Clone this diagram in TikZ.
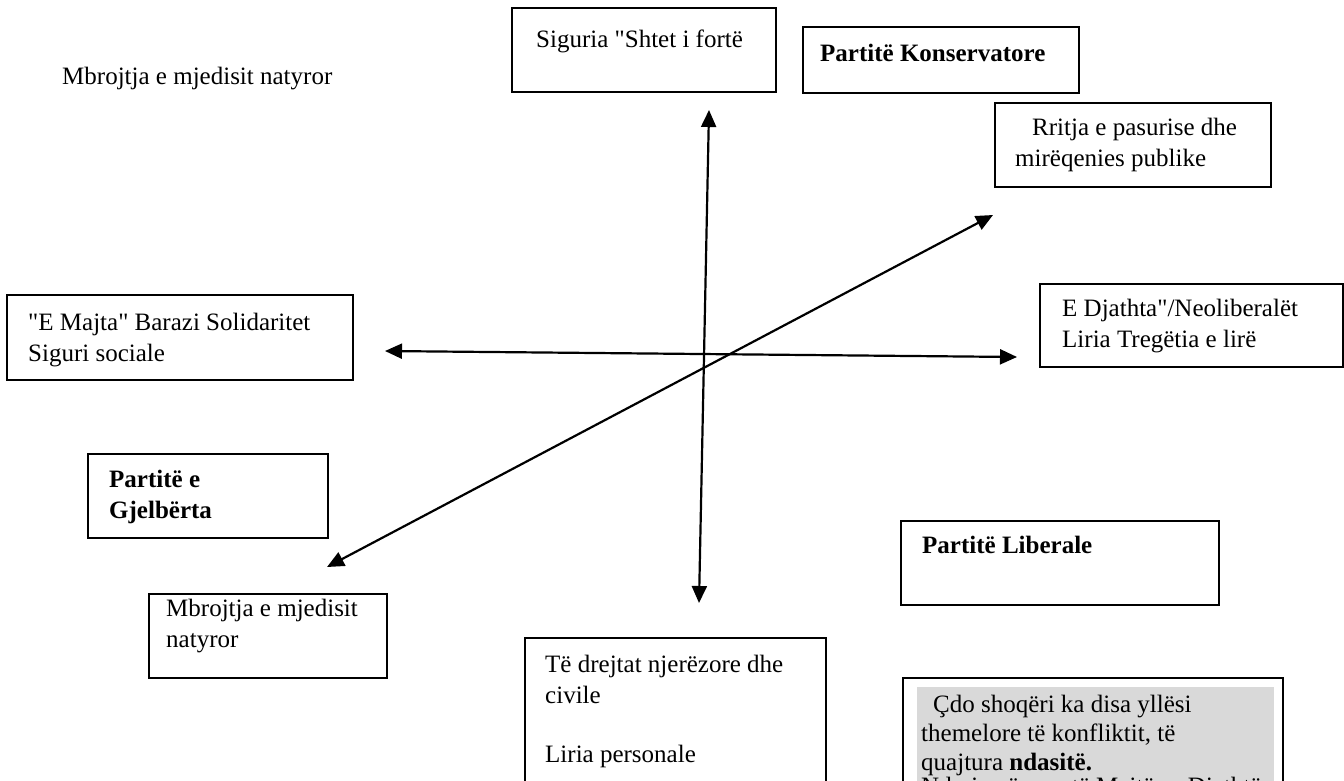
\documentclass[tikz,border=0pt]{standalone}
\usepackage{fontspec}
\setmainfont{Liberation Serif}[Ligatures=TeXOff]
\usetikzlibrary{arrows.meta}
\definecolor{shadegray}{RGB}{217,217,217}
\begin{document}
\begin{tikzpicture}[x=1pt,y=-1pt,
  box/.style={draw=black, line width=1.8pt, rectangle, inner sep=0pt, anchor=north west},
  txt/.style={inner sep=0pt, anchor=base west, align=left, font=\fontsize{25}{31}\selectfont},
  btxt/.style={txt, font=\fontsize{25}{31}\selectfont\bfseries},
  axis/.style={line width=2.2pt, {Triangle[length=17pt,width=15pt]}-{Triangle[length=17pt,width=15pt]}}]
\useasboundingbox (0,0) rectangle (1344,780);
\clip (0,0) rectangle (1344,780);
\fill[white] (0,0) rectangle (1344,780);

% boxes
\node[box, minimum width=264pt, minimum height=84pt] (siguria) at (511,7) {};
\node[box, minimum width=276pt, minimum height=66pt] (konserv) at (802,26) {};
\node[box, minimum width=276pt, minimum height=84pt] (rritja) at (994,102) {};
\node[box, minimum width=346pt, minimum height=85pt] (majta) at (6,294) {};
\node[box, minimum width=303pt, minimum height=83pt] (djathta) at (1039,283) {};
\node[box, minimum width=240pt, minimum height=84pt] (gjelb) at (87,453) {};
\node[box, minimum width=238pt, minimum height=84pt] (mbroj) at (148,593) {};
\node[box, minimum width=318pt, minimum height=84pt] (liberal) at (900,520) {};
\node[box, minimum width=301pt, minimum height=170pt] (drejtat) at (524,637) {};
\node[box, minimum width=380pt, minimum height=130pt] (cdo) at (902,677) {};
\node[fill=shadegray, inner sep=0pt, anchor=north west, minimum width=357pt, minimum height=120pt] (shade) at (917,687) {};

% texts (base anchor = baseline of the last line)
\node[txt] (tlT) at (62,84) {Mbrojtja e mjedisit natyror};
\node[txt] (sigT) at (536,47) {Siguria "Shtet i fortë};
\node[btxt] (konT) at (820,61) {Partitë Konservatore};
\node[txt] (rrT) at (1015,166) {\hspace*{17pt}Rritja e pasurise dhe\\mirëqenies publike};
\node[txt] (majT) at (28,361) {"E Majta" Barazi Solidaritet\\Siguri sociale};
\node[txt] (djT) at (1062,347) {E Djathta"/Neoliberalët\\Liria Tregëtia e lirë};
\node[btxt] (gjT) at (109,518) {Partitë e\\Gjelbërta};
\node[txt] (mbT) at (166,647) {Mbrojtja e mjedisit\\natyror};
\node[txt] (drT) at (545,762) {Të drejtat njerëzore dhe\\civile\\[28pt]Liria personale};
\node[btxt] (libT) at (922,553) {Partitë Liberale};
\node[txt, font=\fontsize{25}{29}\selectfont] (cdoT) at (921,794) {\hspace*{12pt}Çdo shoqëri ka disa yllësi\\themelore të konfliktit, të\\quajtura \textbf{ndasitë.}\\[-5pt]Ndarja në mes të Majtës e Djathtës};

% axes
\coordinate (vT) at (709,110);
\coordinate (vB) at (699,603);
\coordinate (hL) at (385,351);
\coordinate (hR) at (1017,357);
\coordinate (dL) at (327,567);
\coordinate (dR) at (993,215);
\draw[axis] (vT) -- (vB);
\draw[axis] (hL) -- (hR);
\draw[axis] (dL) -- (dR);
\end{tikzpicture}
\end{document}
